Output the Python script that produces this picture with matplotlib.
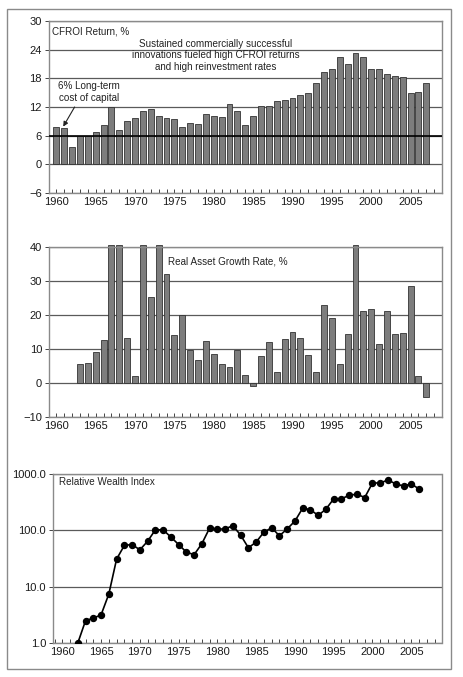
import numpy as np
import matplotlib
matplotlib.use("Agg")
import matplotlib.pyplot as plt
from matplotlib.patches import Rectangle
from matplotlib.ticker import FixedLocator, MultipleLocator, NullLocator

plt.rcParams['font.family'] = ['Liberation Sans', 'DejaVu Sans']

# CFROI return, % (1960-2007)
cfroi_years = list(range(1960, 2008))
cfroi = [7.8, 7.6, 3.6, 6.0, 6.0, 6.7, 8.3, 12.0, 7.2, 9.0,
         9.6, 11.2, 11.6, 10.1, 9.8, 9.4, 7.9, 8.6, 8.5, 10.6,
         10.2, 10.0, 12.6, 11.1, 8.2, 10.2, 12.2, 12.2, 13.2, 13.4,
         13.9, 14.5, 15.0, 17.0, 19.3, 20.0, 22.4, 20.9, 23.3, 22.4,
         20.0, 19.9, 18.9, 18.5, 18.3, 15.0, 15.2, 17.0]
cost_of_capital = 6.0

# real asset growth rate, % (1963-2007); bars above 40 are cut at the frame
growth_years = list(range(1963, 2008))
growth = [5.5, 6.0, 9.0, 12.7, 40.6, 40.6, 13.1, 2.0, 40.6, 25.2,
          40.6, 32.0, 14.0, 20.0, 9.7, 6.9, 12.5, 8.6, 5.6, 4.8,
          9.7, 2.3, -0.9, 8.0, 12.0, 3.1, 13.0, 15.0, 13.3, 8.3,
          3.1, 22.8, 19.1, 5.6, 14.4, 40.6, 21.2, 21.9, 11.5, 21.2,
          14.4, 14.7, 28.6, 2.2, -4.0]

# relative wealth index (1962-2006)
wealth_years = list(range(1962, 2007))
wealth = [1.0, 2.5, 2.76, 3.16, 7.4, 30.8, 54, 56, 45, 64,
          102, 102, 76, 56, 41, 37, 58, 110, 105, 106,
          121, 82, 49, 62, 93, 111, 80, 106, 146, 248,
          232, 184, 238, 362, 362, 420, 438, 382, 693, 693,
          783, 666, 614, 666, 543]

x_labels = [1960, 1965, 1970, 1975, 1980, 1985, 1990, 1995, 2000, 2005]

W, H = 463, 677
fig = plt.figure(figsize=(W / 100, H / 100), dpi=100)

def px_axes(left, top, right, bottom):
    return fig.add_axes([left / W, 1 - bottom / H, (right - left) / W, (bottom - top) / H])

grid_c = '#5a5a5a'
spine_c = '#8a8a8a'
bar_c = '#7d7d7d'
tick_fs = 8
note_fs = 7.1

def style(ax, xlim):
    ax.set_xlim(*xlim)
    for s in ax.spines.values():
        s.set_color(spine_c)
        s.set_linewidth(1.0)
    ax.xaxis.set_major_locator(FixedLocator(x_labels))
    ax.xaxis.set_minor_locator(MultipleLocator(1))
    ax.tick_params(axis='x', which='both', direction='in', length=3, width=0.7,
                   color='#444444', labelsize=tick_fs, pad=3, labelcolor='#1a1a1a')
    ax.tick_params(axis='y', which='major', direction='out', length=3, width=0.7,
                   color='#444444', labelsize=tick_fs, pad=2, labelcolor='#1a1a1a')
    ax.tick_params(axis='y', which='minor', length=0)
    ax.grid(axis='y', which='major', color=grid_c, linewidth=0.9)
    ax.set_axisbelow(True)

# top panel
ax1 = px_axes(49, 21, 441.5, 193)
ax1.bar(cfroi_years, cfroi, width=0.75, color=bar_c, edgecolor='#333333', linewidth=0.6, zorder=2)
ax1.axhline(cost_of_capital, color='black', linewidth=1.2, zorder=3)
ax1.set_ylim(-6, 30)
ax1.set_yticks(range(-6, 31, 6))
ax1.set_yticklabels(['\u22126'] + [str(v) for v in range(0, 31, 6)])
style(ax1, (1959.07, 2008.93))
ax1.text(0.007, 0.94, 'CFROI Return, %', transform=ax1.transAxes, fontsize=note_fs,
         ha='left', va='center', color='#222222')
ax1.text(1980.3, 22.8, 'Sustained commercially successful\ninnovations fueled high CFROI returns\nand high reinvestment rates',
         fontsize=note_fs, ha='center', va='center', color='#222222', linespacing=1.2)
ax1.text(1964.2, 15.1, '6% Long-term\ncost of capital', fontsize=note_fs,
         ha='center', va='center', color='#222222', linespacing=1.2)
ax1.annotate('', xy=(1960.7, 7.4), xytext=(1962.5, 12.5),
             arrowprops=dict(arrowstyle='-|>', color='#222222', lw=0.8, mutation_scale=7))

# middle panel
ax2 = px_axes(49, 247, 441.5, 417)
ax2.bar(growth_years, growth, width=0.75, color=bar_c, edgecolor='#333333', linewidth=0.6,
        zorder=2, clip_on=False)
ax2.set_ylim(-10, 40)
ax2.set_yticks(range(-10, 41, 10))
ax2.set_yticklabels(['\u221210'] + [str(v) for v in range(0, 41, 10)])
style(ax2, (1959.07, 2008.93))
ax2.text(0.302, 0.915, 'Real Asset Growth Rate, %', transform=ax2.transAxes, fontsize=note_fs,
         ha='left', va='center', color='#222222')

# bottom panel
ax3 = px_axes(53, 474, 441.5, 643)
ax3.plot(wealth_years, wealth, color='black', linewidth=1.2, marker='o', markersize=4.3, zorder=3)
ax3.set_yscale('log')
ax3.set_ylim(1, 1000)
ax3.yaxis.set_major_locator(FixedLocator([1, 10, 100, 1000]))
ax3.yaxis.set_minor_locator(NullLocator())
ax3.set_yticklabels(['1.0', '10.0', '100.0', '1000.0'])
style(ax3, (1958.8, 2008.9))
ax3.text(0.016, 0.95, 'Relative Wealth Index', transform=ax3.transAxes, fontsize=note_fs,
         ha='left', va='center', color='#222222')

# outer frame
fig.patches.append(Rectangle((7 / W, 1 - 669 / H), 444 / W, 660 / H, transform=fig.transFigure,
                             fill=False, edgecolor='#8a8a8a', linewidth=1.0))

fig.savefig('out.png', dpi=100)
